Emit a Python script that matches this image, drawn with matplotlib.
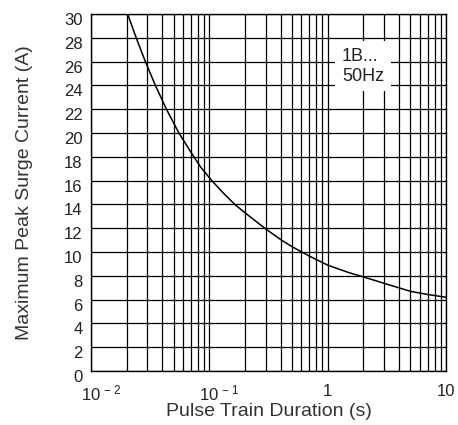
import numpy as np
import matplotlib
matplotlib.use('Agg')
import matplotlib.pyplot as plt
import matplotlib.transforms as mtrans
from matplotlib.ticker import FixedLocator, NullFormatter

## Données
duree = [0.0204, 0.0241, 0.0288, 0.035, 0.0434, 0.0553, 0.074, 0.085, 0.105, 0.13, 0.164, 0.2,
         0.294, 0.4, 0.5, 0.604, 0.7, 1.0, 1.5, 1.94, 3.0, 5.0, 7.0, 10.0]  # s
courant = [30, 28, 26, 24, 22, 20, 18, 17.1, 16, 15.0, 14, 13.3,
           12, 11.05, 10.45, 10, 9.66, 8.9, 8.28, 7.95, 7.37, 6.7, 6.43, 6.2]  # A

x_ticks = [0.01, 0.1, 1, 10]
x_labels = [r'$10^{\,-\,2}$', r'$10^{\,-\,1}$', '1', '10']
y_ticks = list(range(0, 31, 2))

legende = '1B...\n50Hz'

plt.rcParams['font.family'] = ['Liberation Sans', 'DejaVu Sans']
plt.rcParams['mathtext.fontset'] = 'custom'
plt.rcParams['mathtext.rm'] = 'Liberation Sans'
plt.rcParams['mathtext.it'] = 'Liberation Sans'

fig = plt.figure(figsize=(4.58, 4.25), dpi=100)
ax = fig.add_axes([0.1987, 0.127, 0.7751, 0.840])

ax.set_xscale('log')
ax.set_xlim(0.01, 10)
ax.set_ylim(0, 30)

# grille
minor = [m * 10.0**e for e in range(-2, 1) for m in range(2, 10)]
ax.xaxis.set_major_locator(FixedLocator(x_ticks))
ax.xaxis.set_minor_locator(FixedLocator(minor))
ax.xaxis.set_minor_formatter(NullFormatter())
ax.set_xticklabels(x_labels)
ax.set_yticks(y_ticks)
ax.grid(True, which='both', axis='x', color='black', linewidth=0.9)
ax.grid(True, which='major', axis='y', color='black', linewidth=0.9)
ax.tick_params(which='both', length=0, labelsize=12, colors='#222222')
ax.tick_params(axis='x', pad=9)
ax.tick_params(axis='y', pad=6)

# décalage des étiquettes (comme sur l'original)
for lab in ax.get_yticklabels():
    lab.set_transform(lab.get_transform() + mtrans.ScaledTranslation(0, -5 / 100, fig.dpi_scale_trans))
for lab in ax.get_xticklabels()[:2]:
    lab.set_transform(lab.get_transform() + mtrans.ScaledTranslation(10 / 100, 0, fig.dpi_scale_trans))

for s in ax.spines.values():
    s.set_color('black')
    s.set_linewidth(1.0)

ax.plot(duree, courant, color='black', linewidth=1.1, zorder=3)

ax.text(0.707, 0.905, legende, transform=ax.transAxes, fontsize=13,
        va='top', ha='left', color='#222222', linespacing=1.2,
        bbox=dict(facecolor='white', edgecolor='none', pad=5), zorder=4)

ax.set_xlabel('Pulse Train Duration (s)', fontsize=14, color='#333333', labelpad=0)
ax.set_ylabel('Maximum Peak Surge Current (A)', fontsize=14, color='#333333', labelpad=22)

fig.savefig('out.png', dpi=100)
